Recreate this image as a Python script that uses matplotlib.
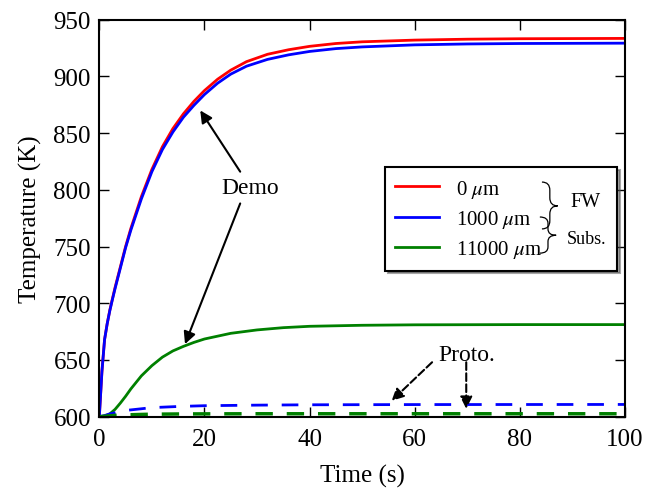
import numpy as np
import matplotlib.pyplot as plt
from matplotlib.path import Path
from matplotlib.patches import PathPatch

plt.rcParams['font.family'] = 'serif'
plt.rcParams['font.serif'] = ['Liberation Serif', 'DejaVu Serif']
plt.rcParams['mathtext.fontset'] = 'stix'

# data
# Demo, front wall (0 um) and 1000 um
t_fw = [0, 0.5, 1, 1.5, 2, 2.5, 3, 4, 5, 6, 8, 10, 12, 14, 16, 18, 20, 22.5, 25, 28, 32, 36, 40, 45, 50, 60, 70, 80, 100]
T_0um = [600, 640, 668, 682, 694, 704, 714, 732, 750, 766, 794, 818, 838, 854, 867, 878, 887.5, 897.5, 905.5, 913, 919.5, 923.5, 926.5, 929, 930.5, 932, 932.8, 933.2, 933.5]
T_1000um = [600, 640, 668, 682, 693.5, 703.5, 713, 731, 749, 764.5, 792, 816, 835.5, 851, 864, 874.5, 884, 894, 902, 909, 915, 919, 922, 924.5, 926, 927.8, 928.6, 929, 929.3]
# Demo, substrate (11000 um)
t_sub = [0, 1, 2, 3, 4, 5, 6, 8, 10, 12, 14, 16, 18, 20, 25, 30, 35, 40, 50, 60, 80, 100]
T_11000um = [600, 600.5, 602.5, 606.5, 612, 618, 624.5, 636, 645, 652.5, 658, 662, 665.5, 668.5, 673.5, 676.5, 678.5, 679.7, 680.6, 681, 681.2, 681.2]
# Proto.
t_proto = [0, 1, 2, 3, 5, 8, 10, 15, 20, 30, 40, 60, 100]
T_proto_1000um = [600, 601, 602.5, 603.5, 605.5, 607, 608, 609, 609.7, 610.2, 610.5, 610.7, 610.8]
T_proto_11000um = [600, 600.4, 600.8, 601.2, 601.6, 602, 602.2, 602.4, 602.5, 602.6, 602.6, 602.6, 602.6]

fig = plt.figure(figsize=(6.47, 4.89), dpi=100)
ax = fig.add_axes([0.1535, 0.1458, 0.8125, 0.8119])

ax.plot(t_fw, T_0um, color='r', lw=2, label=r'0 $\mu$m')
ax.plot(t_fw, T_1000um, color='b', lw=2, label=r'1000 $\mu$m')
ax.plot(t_sub, T_11000um, color='g', lw=2, label=r'11000 $\mu$m')
ax.plot(t_proto, T_proto_1000um, color='b', lw=2, ls='--', dashes=(6, 5))
ax.plot(t_proto, T_proto_11000um, color='g', lw=2.5, ls='--', dashes=(5, 4))

ax.set_xlim(0, 100)
ax.set_ylim(600, 950)
ax.set_xticks(np.arange(0, 101, 20))
ax.set_yticks(np.arange(600, 951, 50))
ax.tick_params(direction='in', top=True, right=True, length=7, width=1, labelsize=18)
ax.tick_params(axis='x', pad=8)
ax.tick_params(axis='y', pad=6)
for s in ax.spines.values():
    s.set_linewidth(1.5)

ax.set_xlabel('Time (s)', fontsize=18, labelpad=10)
ax.set_ylabel('Temperature (K)', fontsize=18, labelpad=8)

# annotations
arr = dict(arrowstyle='-|>', color='k', lw=1.5, mutation_scale=18, shrinkA=0, shrinkB=0)
ax.text(28.7, 802, 'Demo', ha='center', va='center', fontsize=17)
ax.annotate('', xy=(19.2, 870), xytext=(26.8, 816), arrowprops=arr)
ax.annotate('', xy=(16.3, 664), xytext=(26.8, 788), arrowprops=arr)

arr2 = dict(arrowstyle='-|>', color='k', lw=1.5, ls='--', mutation_scale=18, shrinkA=0, shrinkB=0)
ax.text(69.8, 655, 'Proto.', ha='center', va='center', fontsize=17)
ax.annotate('', xy=(55.6, 614), xytext=(63.3, 648), arrowprops=arr2)
ax.annotate('', xy=(69.8, 607), xytext=(69.8, 648), arrowprops=arr2)

leg = ax.legend(loc='center', bbox_to_anchor=(0.5435, 0.3796, 0.441, 0.2374), mode='expand',
                fontsize=15, labelspacing=0.4, handlelength=2.1, handletextpad=0.8,
                shadow=True, fancybox=False, framealpha=1, borderaxespad=0, borderpad=0.5)
leg.get_frame().set_edgecolor('k')
leg.get_frame().set_linewidth(1.5)


def brace(x0, x1, top, bot, mid):
    # right-pointing curly brace in axes coords
    xm = 0.5 * (x0 + x1)
    r = 0.35 * min(top - mid, mid - bot)
    verts = [(x0, top), (xm, top), (xm, top - r),
             (xm, mid + r),
             (xm, mid), (x1, mid),
             (xm, mid), (xm, mid - r),
             (xm, bot + r),
             (xm, bot), (x0, bot)]
    codes = [Path.MOVETO, Path.CURVE3, Path.CURVE3,
             Path.LINETO,
             Path.CURVE3, Path.CURVE3,
             Path.CURVE3, Path.CURVE3,
             Path.LINETO,
             Path.CURVE3, Path.CURVE3]
    ax.add_patch(PathPatch(Path(verts, codes), fc='none', ec='k', lw=0.9,
                           transform=ax.transAxes, zorder=10, clip_on=False))


brace(0.842, 0.872, 0.591, 0.473, 0.531)
brace(0.838, 0.869, 0.503, 0.412, 0.457)
ax.text(0.924, 0.5433, 'FW', transform=ax.transAxes, ha='center', va='center', fontsize=14.5, zorder=10)
ax.text(0.9277, 0.4479, 'Subs.', transform=ax.transAxes, ha='center', va='center', fontsize=13, zorder=10)

plt.savefig('out.png', dpi=100)
